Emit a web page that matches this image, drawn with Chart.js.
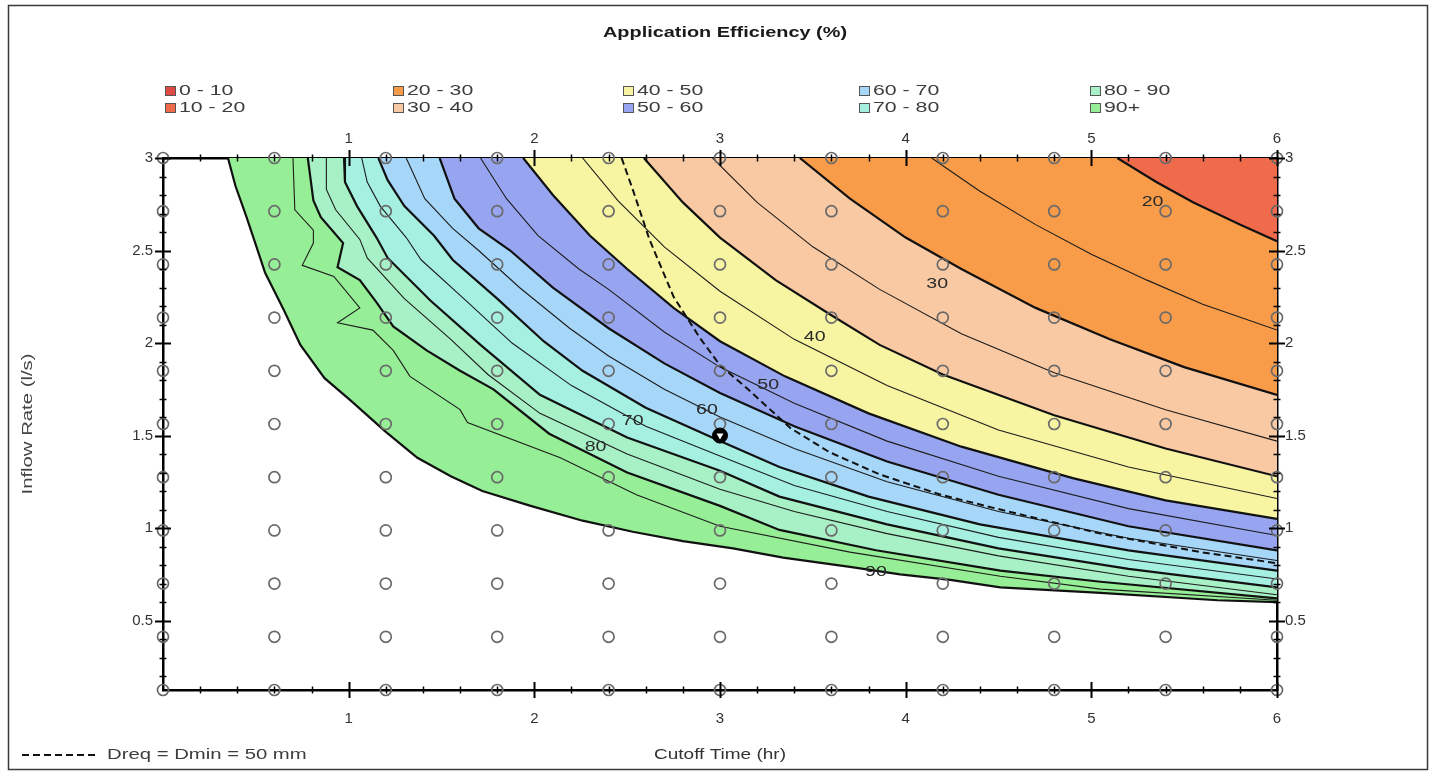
<!DOCTYPE html>
<html>
<head>
<meta charset="utf-8">
<title>Application Efficiency (%)</title>
<script src="https://cdn.jsdelivr.net/npm/chart.js@4.4.1/dist/chart.umd.min.js"></script>
<style>
  html, body { margin: 0; padding: 0; background: #ffffff; }
  #wrap { width: 1431px; height: 773px; }
</style>
</head>
<body>
<div id="wrap"><canvas id="chart" width="1431" height="773"></canvas></div>
<script>
// Simulation grid: cutoff time (hr) x inflow rate (l/s)
const cutoffTimes = [0, 0.6, 1.2, 1.8, 2.4, 3.0, 3.6, 4.2, 4.8, 5.4, 6.0];
const inflowRates = [0.125, 0.4125, 0.7, 0.9875, 1.275, 1.5625, 1.85, 2.1375, 2.425, 2.7125, 3.0];

// Axis tick labels
const timeTicks = [1, 2, 3, 4, 5, 6];
const rateTicks = [0.5, 1, 1.5, 2, 2.5, 3];

// Efficiency classes
const bandLabels = ['0 - 10', '10 - 20', '20 - 30', '30 - 40', '40 - 50',
                    '50 - 60', '60 - 70', '70 - 80', '80 - 90', '90+'];
const bandColors = ['#e04a44', '#f06b4c', '#f89c4a', '#f9c9a3', '#f7f5a2',
                    '#97a5f1', '#a6d6f8', '#a6f0e2', '#a8f1c6', '#96ef96'];

// Contour lines as [cutoff time, inflow rate], running from the top edge to the right edge
const contourEdge = [[0.35,3.0],[0.39,2.85],[0.45,2.68],[0.50,2.53],[0.55,2.38],[0.65,2.18],[0.74,1.99],
  [0.87,1.81],[1.01,1.69],[1.20,1.52],[1.37,1.38],[1.55,1.28],[1.72,1.20],[1.98,1.12],[2.26,1.04],
  [2.53,0.98],[2.80,0.93],[3.07,0.89],[3.34,0.84],[3.70,0.79],[3.97,0.75],[4.24,0.72],[4.51,0.68],
  [5.05,0.65],[5.68,0.61],[6.0,0.60]];
const contour95 = [[0.70,3.0],[0.71,2.72],[0.81,2.61],[0.81,2.54],[0.75,2.42],[0.92,2.36],[1.06,2.19],
  [0.94,2.11],[1.13,2.07],[1.24,1.96],[1.33,1.82],[1.60,1.64],[1.64,1.57],[2.14,1.38],[2.55,1.18],
  [3.0,1.01],[3.70,0.87],[4.51,0.74],[5.05,0.67],[6.0,0.61]];
const contour90 = [[0.78,3.0],[0.81,2.77],[0.85,2.68],[0.97,2.54],[0.94,2.41],[1.06,2.34],[1.15,2.22],
  [1.24,2.09],[1.42,1.96],[1.60,1.85],[1.78,1.75],[2.08,1.51],[2.5,1.30],[3.0,1.12],[3.32,0.99],
  [3.84,0.88],[4.51,0.77],[5.05,0.71],[6.0,0.62]];
const contour85 = [[0.88,3.0],[0.88,2.83],[0.93,2.72],[1.06,2.56],[1.10,2.46],[1.30,2.24],[1.55,2.02],
  [1.75,1.83],[2.03,1.62],[2.5,1.40],[3.0,1.21],[3.4,1.09],[3.9,0.97],[4.5,0.85],[5.2,0.74],[6.0,0.64]];
const contour80 = [[0.975,3.0],[0.98,2.87],[1.045,2.74],[1.15,2.57],[1.21,2.46],[1.44,2.23],[1.71,1.99],
  [2.03,1.72],[2.5,1.49],[3.0,1.31],[3.32,1.17],[3.9,1.02],[4.5,0.89],[5.2,0.78],[6.0,0.68]];
const contour75 = [[1.07,3.0],[1.10,2.87],[1.17,2.74],[1.31,2.57],[1.39,2.45],[1.62,2.24],[1.88,2.0],
  [2.2,1.77],[2.6,1.55],[3.0,1.39],[3.4,1.23],[3.9,1.09],[4.5,0.95],[5.2,0.83],[6.0,0.725]];
const contour70 = [[1.16,3.0],[1.21,2.88],[1.30,2.74],[1.46,2.58],[1.56,2.45],[1.80,2.24],[2.05,2.01],
  [2.26,1.85],[2.6,1.65],[3.0,1.47],[3.32,1.33],[3.8,1.17],[4.4,1.02],[5.2,0.88],[6.0,0.77]];
const contour65 = [[1.31,3.0],[1.41,2.78],[1.56,2.62],[1.70,2.50],[1.92,2.30],[2.19,2.08],[2.4,1.93],
  [2.7,1.75],[3.0,1.60],[3.4,1.43],[3.9,1.25],[4.5,1.09],[5.2,0.945],[6.0,0.825]];
const contour60 = [[1.49,3.0],[1.57,2.78],[1.70,2.62],[1.87,2.50],[2.1,2.30],[2.4,2.08],[2.7,1.89],
  [3.0,1.73],[3.4,1.55],[3.9,1.36],[4.5,1.18],[5.2,1.01],[6.0,0.88]];
const contour55 = [[1.71,3.0],[1.85,2.78],[2.02,2.58],[2.24,2.40],[2.4,2.29],[2.7,2.06],[3.0,1.87],
  [3.4,1.675],[3.9,1.47],[4.5,1.28],[5.2,1.105],[6.0,0.96]];
const contour50 = [[1.94,3.0],[2.1,2.80],[2.3,2.58],[2.5,2.40],[2.75,2.19],[3.0,2.01],[3.35,1.82],
  [3.8,1.62],[4.3,1.44],[4.9,1.27],[5.4,1.15],[6.0,1.05]];
const contour45 = [[2.26,3.0],[2.45,2.77],[2.7,2.52],[3.0,2.28],[3.4,2.02],[3.9,1.77],[4.5,1.53],
  [5.2,1.33],[6.0,1.16]];
const contour40 = [[2.59,3.0],[2.8,2.76],[3.0,2.57],[3.3,2.34],[3.6,2.15],[3.86,1.99],[4.2,1.83],
  [4.8,1.61],[5.4,1.43],[6.0,1.28]];
const contour35 = [[2.96,3.0],[3.2,2.76],[3.5,2.52],[3.86,2.29],[4.3,2.05],[4.8,1.84],[5.4,1.64],[6.0,1.47]];
const contour30 = [[3.43,3.0],[3.7,2.78],[4.0,2.57],[4.3,2.40],[4.7,2.19],[5.1,2.02],[5.5,1.87],[6.0,1.72]];
const contour25 = [[4.14,3.0],[4.4,2.82],[4.7,2.64],[5.0,2.48],[5.3,2.34],[5.6,2.21],[6.0,2.07]];
const contour20 = [[5.14,3.0],[5.35,2.87],[5.55,2.76],[5.8,2.64],[6.0,2.55]];

// Dreq = Dmin = 50 mm line
const dreqLine = [[2.47,3.0],[2.53,2.83],[2.62,2.56],[2.75,2.25],[2.89,2.03],[3.0,1.88],[3.14,1.76],
  [3.38,1.54],[3.59,1.41],[3.86,1.29],[4.19,1.18],[4.51,1.10],[5.05,0.97],[5.59,0.87],[6.0,0.81]];

// Current design point
const designPoint = [3.0, 1.5];

// Contour value labels
const labelTexts = ['20', '30', '40', '50', '60', '70', '80', '90'];
const labelTimes = [5.33, 4.17, 3.51, 3.26, 2.93, 2.53, 2.33, 3.84];
const labelRates = [2.76, 2.32, 2.03, 1.77, 1.64, 1.58, 1.44, 0.76];

const FONT = '"Liberation Sans", Arial, sans-serif';
const INK = '#111111';

const xy = pts => pts.map(p => ({ x: p[0], y: p[1] }));

// Filled bands: the area beyond each contour, toward the top-right corner
const bandFills = [
  [contourEdge, 9], [contour90, 8], [contour80, 7], [contour70, 6], [contour60, 5],
  [contour50, 4], [contour40, 3], [contour30, 2], [contour20, 1]
];
const majorLines = [contourEdge, contour90, contour80, contour70, contour60, contour50, contour40, contour30, contour20];
const minorLines = [contour95, contour85, contour75, contour65, contour55, contour45, contour35, contour25];

const datasets = [];
bandFills.forEach(([line, band]) => {
  datasets.push({
    data: xy(line).concat([{ x: 6, y: 3 }]),
    fill: 'shape',
    backgroundColor: bandColors[band],
    borderWidth: 0,
    pointRadius: 0,
    order: 20 + band
  });
});
majorLines.forEach(line => datasets.push({
  data: xy(line), fill: false, borderColor: INK, borderWidth: 2.2, pointRadius: 0, order: 6
}));
minorLines.forEach(line => datasets.push({
  data: xy(line), fill: false, borderColor: '#1c1c1c', borderWidth: 1.1, pointRadius: 0, order: 6
}));
datasets.push({
  data: xy(dreqLine), fill: false, borderColor: INK, borderWidth: 2, borderDash: [7, 4],
  pointRadius: 0, order: 4
});

const gridPoints = [];
cutoffTimes.forEach(t => inflowRates.forEach(q => gridPoints.push({ x: t, y: q })));
datasets.push({
  data: gridPoints, showLine: false, clip: false,
  pointRadius: 5.5, pointBorderWidth: 1.7, pointBorderColor: '#6a6a6a',
  pointBackgroundColor: 'rgba(0,0,0,0)', order: 3
});
datasets.push({
  data: [{ x: designPoint[0], y: designPoint[1] }], showLine: false,
  pointRadius: 7.5, pointBackgroundColor: '#000', pointBorderColor: '#000', pointBorderWidth: 1, order: 2
});
datasets.push({
  data: [{ x: designPoint[0], y: designPoint[1] }], showLine: false,
  pointStyle: 'triangle', pointRotation: 180, pointRadius: 4,
  pointBackgroundColor: '#fff', pointBorderWidth: 0, order: 1
});

const tickFont = { family: FONT, size: 15 };
function axis(position, min, max, values, size, pad) {
  return {
    type: 'linear', position, min, max, z: 1,
    grid: { display: false, drawTicks: false },
    border: { display: true, color: '#000', width: 2.5 },
    ticks: {
      color: '#333', font: tickFont, padding: pad, autoSkip: false, maxRotation: 0,
      callback: v => String(v)
    },
    afterBuildTicks: s => { s.ticks = values.map(v => ({ value: v })); },
    afterFit: s => { if (s.isHorizontal()) s.height = size; else s.width = size; }
  };
}

function stretchText(ctx, text, x, y, font, color, sx, align) {
  ctx.save();
  ctx.font = font;
  ctx.fillStyle = color;
  ctx.textBaseline = 'middle';
  ctx.textAlign = align || 'left';
  ctx.translate(x, y);
  ctx.scale(sx, 1);
  ctx.fillText(text, 0, 0);
  ctx.restore();
}
function fitText(ctx, text, cx, cy, width, font, color, angle) {
  ctx.save();
  ctx.font = font;
  const w = ctx.measureText(text).width;
  ctx.fillStyle = color;
  ctx.textBaseline = 'middle';
  ctx.textAlign = 'center';
  ctx.translate(cx, cy);
  if (angle) ctx.rotate(angle);
  ctx.scale(width / w, 1);
  ctx.fillText(text, 0, 0);
  ctx.restore();
}

const overlay = {
  id: 'overlay',
  afterDatasetsDraw(chart) {
    const { ctx, scales } = chart;
    labelTexts.forEach((txt, i) => {
      const px = scales.x.getPixelForValue(labelTimes[i]);
      const py = scales.y.getPixelForValue(labelRates[i]);
      stretchText(ctx, txt, px, py, '14px ' + FONT, '#2a2a2a', 1.4, 'center');
    });
  },
  afterDraw(chart) {
    const { ctx, chartArea: a, scales } = chart;

    // outer frame
    ctx.save();
    ctx.strokeStyle = '#3a3a3a';
    ctx.lineWidth = 1.5;
    ctx.strokeRect(8.5, 5.5, 1419, 764);
    ctx.restore();

    // tick marks on all four sides
    const xMinor = [], yMinor = [];
    for (let k = 1; k < 30; k++) if (k % 5) xMinor.push(k * 0.2);
    for (let k = 2; k < 30; k++) if (k % 5) yMinor.push(k / 10);
    ctx.save();
    ctx.strokeStyle = '#000';
    const hTicks = (vals, len, w) => {
      ctx.lineWidth = w;
      vals.forEach(v => {
        const p = Math.round(scales.x.getPixelForValue(v)) + 0.5;
        [a.top, a.bottom].forEach(y => { ctx.beginPath(); ctx.moveTo(p, y - len); ctx.lineTo(p, y + len); ctx.stroke(); });
      });
    };
    const vTicks = (vals, len, w) => {
      ctx.lineWidth = w;
      vals.forEach(v => {
        const p = Math.round(scales.y.getPixelForValue(v)) + 0.5;
        [a.left, a.right].forEach(x => { ctx.beginPath(); ctx.moveTo(x - len, p); ctx.lineTo(x + len, p); ctx.stroke(); });
      });
    };
    hTicks(timeTicks, 8, 2);
    hTicks(xMinor, 3.5, 1.5);
    vTicks(rateTicks, 8, 2);
    vTicks(yMinor, 3.5, 1.5);
    ctx.restore();

    // title
    fitText(ctx, 'Application Efficiency (%)', 725, 33, 244, 'bold 14px ' + FONT, '#1a1a1a', 0);

    // class legend, two rows per column
    const legendCols = [165, 393, 623, 859, 1090];
    bandLabels.forEach((lab, i) => {
      const x = legendCols[Math.floor(i / 2)];
      const y = i % 2 ? 108 : 91;
      ctx.save();
      ctx.fillStyle = bandColors[i];
      ctx.fillRect(x, y - 5, 11, 10);
      ctx.strokeStyle = '#555';
      ctx.lineWidth = 1;
      ctx.strokeRect(x + 0.5, y - 4.5, 10, 9);
      ctx.restore();
      stretchText(ctx, lab, x + 14, y, '15px ' + FONT, '#3c3c3c', 1.42, 'left');
    });

    // axis titles
    fitText(ctx, 'Cutoff Time (hr)', (a.left + a.right) / 2, 755, 132, '14px ' + FONT, '#333', 0);
    fitText(ctx, 'Inflow Rate (l/s)', 28, (a.top + a.bottom) / 2, 141, '14px ' + FONT, '#444', -Math.PI / 2);

    // line key
    ctx.save();
    ctx.strokeStyle = INK;
    ctx.lineWidth = 2;
    ctx.setLineDash([7, 4]);
    ctx.beginPath();
    ctx.moveTo(22, 755);
    ctx.lineTo(98, 755);
    ctx.stroke();
    ctx.restore();
    stretchText(ctx, 'Dreq = Dmin = 50 mm', 107, 755, '14px ' + FONT, '#3c3c3c', 1.45, 'left');
  }
};

new Chart(document.getElementById('chart'), {
  type: 'line',
  data: { datasets },
  options: {
    responsive: false,
    animation: false,
    devicePixelRatio: 1,
    events: [],
    layout: { padding: 0 },
    elements: { line: { tension: 0 }, point: { radius: 0 } },
    plugins: {
      legend: { display: false },
      title: { display: false },
      tooltip: { enabled: false },
      filler: { drawTime: 'beforeDatasetsDraw' }
    },
    scales: {
      x: axis('bottom', 0, 6, timeTicks, 83, 20),
      xTop: axis('top', 0, 6, timeTicks, 158, 10),
      y: axis('left', 0.125, 3, rateTicks, 163, 10),
      yRight: axis('right', 0.125, 3, rateTicks, 154, 8)
    }
  },
  plugins: [overlay]
});
</script>
</body>
</html>
